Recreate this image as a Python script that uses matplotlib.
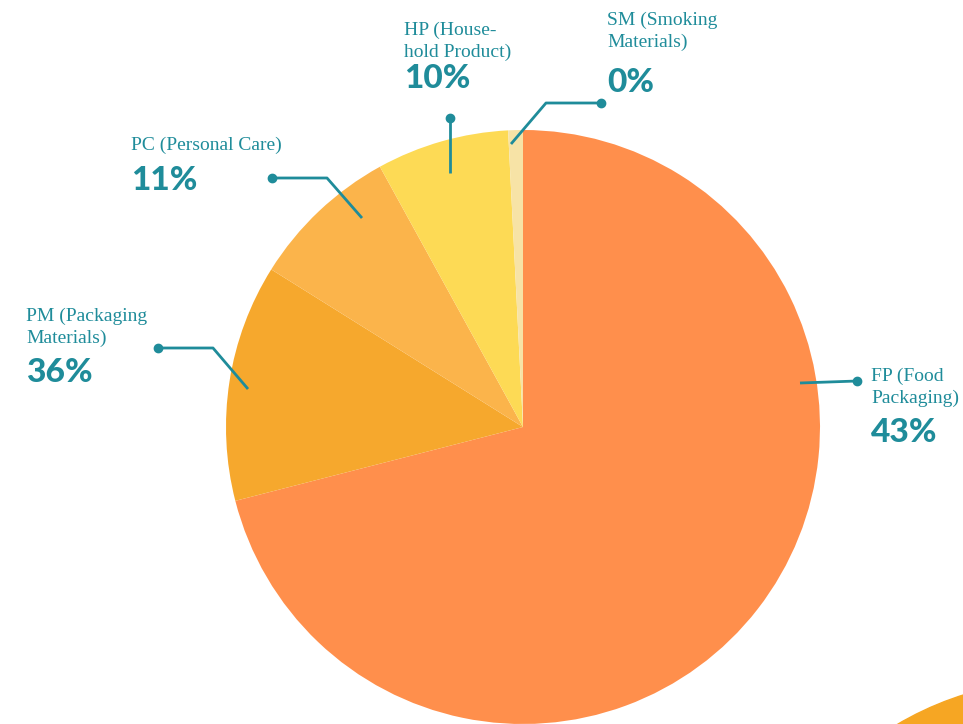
"""
Pie chart of product categories with leader-line callouts
"""

import matplotlib.pyplot as plt
import matplotlib.patches as mpatches

# Data (slice shares as drawn, labels as printed)
categories = ['FP', 'PM', 'PC', 'HP', 'SM']
slice_share = [71.0, 12.9, 8.1, 7.2, 0.8]
names = ['FP (Food\nPackaging)', 'PM (Packaging\nMaterials)', 'PC (Personal Care)',
         'HP (House-\nhold Product)', 'SM (Smoking\nMaterials)']
pct_labels = ['43%', '36%', '11%', '10%', '0%']
colors = ['#FF8F4C', '#F6A82D', '#FBB44B', '#FDDA55', '#F7E3A6']

TEAL = '#1F8C9A'
W, H = 963, 724

fig = plt.figure(figsize=(W / 100, H / 100), dpi=100)
ax = fig.add_axes([0, 0, 1, 1])


def py(y):
    # pixel row (top-down) -> data y (bottom-up)
    return H - y


# Decorative circle peeking in from the bottom-right corner
ax.add_patch(mpatches.Circle((1060, py(1000)), 320, color='#F6A623', zorder=1))

ax.pie(slice_share, colors=colors, startangle=90, counterclock=False,
       center=(523, py(427)), radius=297, frame=True,
       wedgeprops=dict(edgecolor='none', linewidth=0))
ax.set_xlim(0, W)
ax.set_ylim(0, H)
ax.set_aspect('equal')
ax.axis('off')

# Leader lines: polyline points in pixel coords, dot at the last point
leaders = {
    'FP': [(800, 383), (857, 381)],
    'PM': [(248, 389), (213, 348), (158, 348)],
    'PC': [(362, 218), (327, 178), (272, 178)],
    'HP': [(450, 173), (450, 118)],
    'SM': [(511, 144), (546, 103), (601, 103)],
}
for cat in categories:
    pts = leaders[cat]
    xs = [p[0] for p in pts]
    ys = [py(p[1]) for p in pts]
    ax.plot(xs, ys, color=TEAL, lw=2, solid_capstyle='butt', zorder=5)
    ax.plot(xs[-1], ys[-1], 'o', color=TEAL, ms=6, zorder=6)

# Text blocks: (x, top of name, centre of percent)
text_pos = {
    'FP': (871, 368, 432),
    'PM': (26, 308, 372),
    'PC': (131, 137, 180),
    'HP': (404, 22, 79),
    'SM': (607, 12, 82),
}
for cat, name, pct in zip(categories, names, pct_labels):
    x, ytop, ypct = text_pos[cat]
    ax.text(x, py(ytop), name, ha='left', va='top', color=TEAL,
            fontsize=14, family='Liberation Serif', linespacing=1.3, zorder=7)
    ax.text(x, py(ypct), pct, ha='left', va='center', color=TEAL,
            fontsize=24, family='Lato', fontweight='black', zorder=7)

fig.savefig('out.png', dpi=100, facecolor='white')
plt.close()
